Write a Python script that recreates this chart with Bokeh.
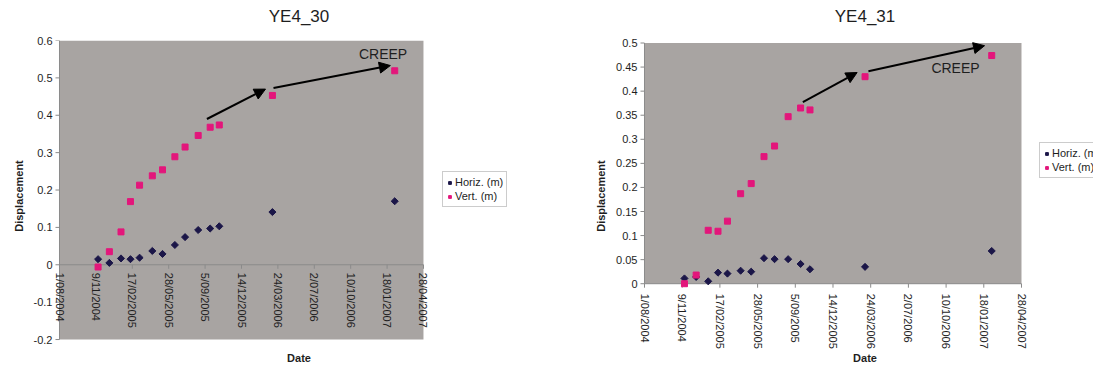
import math
import pandas as pd
from bokeh.plotting import figure
from bokeh.models import (Range1d, FixedTicker, Legend, LegendItem, Arrow, NormalHead,
                          ColumnDataSource, LabelSet, Label, BoxAnnotation, LinearAxis)
from bokeh.layouts import row
from bokeh.core.properties import value
from bokeh.embed import file_html
from bokeh.resources import INLINE

# ---------------- data ----------------
survey_dates = ["15/11/2004", "16/12/2004", "17/01/2005", "12/02/2005", "9/03/2005",
                "13/04/2005", "11/05/2005", "14/06/2005", "12/07/2005", "17/08/2005",
                "19/09/2005", "14/10/2005", "9/03/2006", "8/02/2007"]

ye4_30_horiz = [0.015, 0.005, 0.017, 0.015, 0.019, 0.037, 0.029, 0.053, 0.074, 0.093,
                0.097, 0.103, 0.141, 0.170]
ye4_30_vert = [-0.006, 0.035, 0.088, 0.169, 0.213, 0.238, 0.254, 0.289, 0.315, 0.346,
               0.368, 0.374, 0.453, 0.519]

ye4_31_horiz = [0.011, 0.014, 0.005, 0.023, 0.021, 0.027, 0.025, 0.053, 0.051, 0.051,
                0.041, 0.030, 0.035, 0.068]
ye4_31_vert = [0.000, 0.018, 0.111, 0.109, 0.130, 0.187, 0.208, 0.264, 0.286, 0.347,
               0.365, 0.361, 0.430, 0.474]

x_tick_labels = ["1/08/2004", "9/11/2004", "17/02/2005", "28/05/2005", "5/09/2005",
                 "14/12/2005", "24/03/2006", "2/07/2006", "10/10/2006", "18/01/2007",
                 "28/04/2007"]

ye4_30_yticks = [-0.2, -0.1, 0.0, 0.1, 0.2, 0.3, 0.4, 0.5, 0.6]
ye4_30_ylabels = ["-0.2", "-0.1", "0", "0.1", "0.2", "0.3", "0.4", "0.5", "0.6"]
ye4_31_yticks = [0.0, 0.05, 0.1, 0.15, 0.2, 0.25, 0.3, 0.35, 0.4, 0.45, 0.5]
ye4_31_ylabels = ["0", "0.05", "0.1", "0.15", "0.2", "0.25", "0.3", "0.35", "0.4", "0.45", "0.5"]

# CREEP annotations (date, displacement)
ye4_30_arrow_start = [["10/09/2005", 0.390], ["12/03/2006", 0.473]]
ye4_30_arrow_end = [["18/02/2006", 0.470], ["27/01/2007", 0.533]]
ye4_30_creep = ["7/01/2007", 0.564]
ye4_31_arrow_start = [["25/09/2005", 0.377], ["18/03/2006", 0.4415]]
ye4_31_arrow_end = [["16/02/2006", 0.4387], ["20/01/2007", 0.4944]]
ye4_31_creep = ["4/11/2006", 0.4486]

# ---------------- styling / layout ----------------
FONT = "Liberation Sans"
PINK = "#E3167B"
NAVY = "#1B1648"
PLOT_BG = "#A8A4A2"
AXIS_GRAY = "#8A8A8A"
TEXT = "#1E1E1E"
FRAME_H = 312
PAD_LEFT = 8  # px of frame left of the plot area (room for the first date label)

origin = pd.to_datetime(x_tick_labels[0], format="%d/%m/%Y")


def days(dates):
    return [int((pd.to_datetime(d, format="%d/%m/%Y") - origin).days) for d in dates]


tick_x = days(x_tick_labels)
survey_x = days(survey_dates)
x0, x1 = tick_x[0], tick_x[-1]


def make_chart(title, horiz, vert, yticks, ylabels, width, border_left, px_per_unit, x_end,
               y_range, label_drop, legend_loc, arrows_s, arrows_e, creep):
    ylo, yhi = yticks[0], yticks[-1]
    x_start = x0 - PAD_LEFT / px_per_unit
    p = figure(width=width, height=366, output_backend="svg", toolbar_location=None,
               x_range=Range1d(x_start, x_end), y_range=Range1d(*y_range),
               min_border_left=border_left - PAD_LEFT, min_border_right=0, min_border_top=40,
               min_border_bottom=14, background_fill_color="white",
               border_fill_color="white", outline_line_color=None)
    p.xgrid.visible = False
    p.ygrid.visible = False

    # plot area (grey)
    p.add_layout(BoxAnnotation(left=x0, right=x1, bottom=ylo, top=yhi, fill_color=PLOT_BG,
                               fill_alpha=1.0, line_color=None, level="underlay"))

    # y axis (labels and title in the side panel; line and ticks drawn at the plot area edge)
    ya = p.left[0]
    ya.bounds = (ylo, yhi)
    ya.ticker = FixedTicker(ticks=yticks)
    ya.major_label_overrides = dict(zip(yticks, ylabels))
    ya.minor_tick_line_color = None
    ya.major_tick_line_color = None
    ya.major_tick_out = 0
    ya.major_tick_in = 0
    ya.major_label_standoff = 7 - PAD_LEFT
    ya.axis_line_color = None
    ya.major_label_text_font = FONT
    ya.major_label_text_font_size = "11px"
    ya.major_label_text_color = TEXT
    ya.axis_label = "Displacement"
    ya.axis_label_text_font = FONT
    ya.axis_label_text_font_size = "11px"
    ya.axis_label_text_font_style = "bold"
    ya.axis_label_text_color = TEXT
    ya.axis_label_standoff = 6
    ytick_len = 4 / px_per_unit
    p.segment(x0=[x0], y0=[ylo], x1=[x0], y1=[yhi], line_color=AXIS_GRAY, line_width=1)
    p.segment(x0=[x0] * len(yticks), y0=yticks, x1=[x0 - ytick_len] * len(yticks), y1=yticks,
              line_color=AXIS_GRAY, line_width=1)

    # bottom axis: only the title "Date" (the category axis crosses at zero)
    xa = p.below[0]
    xa.bounds = (x0, x1)
    xa.ticker = FixedTicker(ticks=[])
    xa.axis_line_color = None
    xa.major_tick_line_color = None
    xa.minor_tick_line_color = None
    xa.major_tick_out = 0
    xa.major_label_standoff = 0
    xa.major_label_text_font_size = "0px"
    xa.axis_label = "Date"
    xa.axis_label_text_font = FONT
    xa.axis_label_text_font_size = "11px"
    xa.axis_label_text_font_style = "bold"
    xa.axis_label_text_color = TEXT
    xa.axis_label_standoff = 0

    # chart title as a top axis label centred on the plot area
    ta = LinearAxis(ticker=FixedTicker(ticks=[]), bounds=(x0, x1), axis_line_color=None,
                    major_tick_line_color=None, minor_tick_line_color=None,
                    major_label_text_font_size="0px", axis_label=title,
                    axis_label_text_font=FONT, axis_label_text_font_size="17px",
                    axis_label_text_font_style="normal", axis_label_text_color=TEXT,
                    axis_label_standoff=15)
    p.add_layout(ta, "above")

    tick_len = (y_range[1] - y_range[0]) / FRAME_H * 4
    p.segment(x0=[x0], y0=[0], x1=[x1], y1=[0], line_color=AXIS_GRAY, line_width=1)
    p.segment(x0=tick_x, y0=[0] * len(tick_x), x1=tick_x, y1=[-tick_len] * len(tick_x),
              line_color=AXIS_GRAY, line_width=1)
    src = ColumnDataSource(dict(x=tick_x, y=[0] * len(tick_x), t=x_tick_labels))
    p.add_layout(LabelSet(x="x", y="y", text="t", source=src, angle=-math.pi / 2,
                          text_align="left", text_baseline="middle", y_offset=-label_drop,
                          text_font=value(FONT), text_font_size="11px", text_color=TEXT))

    rh = p.scatter(survey_x, horiz, marker="square", angle=math.pi / 4, size=5,
                   fill_color=NAVY, line_color=NAVY)
    rv = p.scatter(survey_x, vert, marker="square", size=6, fill_color=PINK, line_color=PINK)

    for s, e in zip(arrows_s, arrows_e):
        p.add_layout(Arrow(x_start=days([s[0]])[0], y_start=s[1],
                           x_end=days([e[0]])[0], y_end=e[1],
                           line_color="black", line_width=2,
                           end=NormalHead(size=11, fill_color="black", line_color="black")))
    p.add_layout(Label(x=days([creep[0]])[0], y=creep[1], text="CREEP", text_align="center",
                       text_baseline="middle", text_font=FONT, text_font_size="14px",
                       text_color=TEXT))

    legend = Legend(items=[LegendItem(label="Horiz. (m)", renderers=[rh]),
                           LegendItem(label="Vert. (m)", renderers=[rv])],
                    location=legend_loc, border_line_color="#9A9A9A", border_line_width=1,
                    background_fill_color="white", background_fill_alpha=1.0,
                    label_text_font=FONT, label_text_font_size="11px", label_text_color=TEXT,
                    glyph_width=7, glyph_height=7, label_standoff=2, padding=3, spacing=0,
                    margin=0, label_height=14)
    p.add_layout(legend)
    return p


p1 = make_chart("YE4_30", ye4_30_horiz, ye4_30_vert, ye4_30_yticks, ye4_30_ylabels,
                546, 59, 0.364, 1338, (-0.232, 0.6), 8, (383 + PAD_LEFT, 144),
                ye4_30_arrow_start, ye4_30_arrow_end, ye4_30_creep)
p2 = make_chart("YE4_31", ye4_31_horiz, ye4_31_vert, ye4_31_yticks, ye4_31_ylabels,
                547, 98, 0.377, 1191, (-0.1408, 0.5052), 10, (395 + PAD_LEFT, 173),
                ye4_31_arrow_start, ye4_31_arrow_end, ye4_31_creep)

layout = row(p1, p2)
open("out.html", "w").write(file_html(layout, INLINE))
